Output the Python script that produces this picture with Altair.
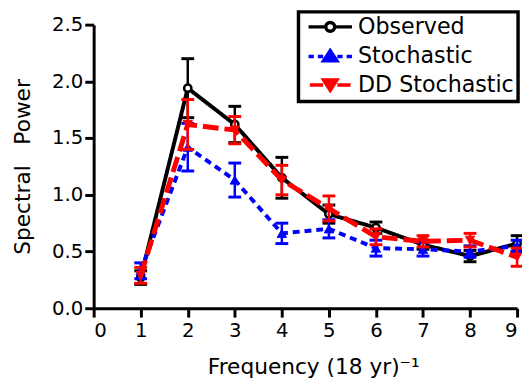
import altair as alt
import pandas as pd

freq = [1, 2, 3, 4, 5, 6, 7, 8, 9]
series_names = ["Observed", "Stochastic", "DD Stochastic"]
series_colors = ["#000000", "#0000ff", "#ff0000"]
series_fills = ["#ffffff", "#0000ff", "#ff0000"]

observed = [0.27, 1.94, 1.62, 1.15, 0.83, 0.71, 0.56, 0.46, 0.57]
observed_err = [0.06, 0.26, 0.16, 0.18, 0.08, 0.05, 0.04, 0.05, 0.07]
stochastic = [0.33, 1.42, 1.13, 0.66, 0.70, 0.53, 0.52, 0.50, 0.55]
stochastic_err = [0.07, 0.21, 0.15, 0.09, 0.08, 0.07, 0.06, 0.05, 0.05]
dd_stochastic = [0.29, 1.62, 1.57, 1.13, 0.88, 0.63, 0.59, 0.60, 0.45]
dd_stochastic_err = [0.07, 0.22, 0.12, 0.13, 0.11, 0.07, 0.05, 0.06, 0.08]

x_ticks = [0, 1, 2, 3, 4, 5, 6, 7, 8, 9]
y_ticks = [0.0, 0.5, 1.0, 1.5, 2.0, 2.5]

FONT = "DejaVu Sans"

series_values = [observed, stochastic, dd_stochastic]
series_errors = [observed_err, stochastic_err, dd_stochastic_err]
line_widths = [4, 4, 5]
line_dashes = [[1, 0], [7, 5], [16, 6]]
point_shapes = ["circle", "triangle-up", "triangle-down"]
point_sizes = [55, 90, 90]

# legend symbols: line + marker drawn as custom paths
legend_paths = [
    "M-2.45,0H-0.5M0.5,0H2.45M-0.5,0A0.5,0.5,0,1,1,0.5,0A0.5,0.5,0,1,1,-0.5,0Z",
    "M-2.45,0H-1.85M-1.4,0H-0.8M0.8,0H1.4M1.85,0H2.45M0,-0.65L0.75,0.5L-0.75,0.5Z",
    "M-2.3,0H-0.8M0.8,0H2.3M0,0.6L0.75,-0.55L-0.75,-0.55Z",
]


def xenc(field):
    return alt.X(
        f"{field}:Q",
        scale=alt.Scale(domain=[0, 9], nice=False, zero=False),
        axis=alt.Axis(
            values=x_ticks,
            format="d",
            title="Frequency (18 yr)\u207b\u00b9",
            titleX=223,
            titleY=66,
            titleBaseline="alphabetic",
            labelPadding=4,
        ),
    )


def yenc(field):
    return alt.Y(
        f"{field}:Q",
        scale=alt.Scale(domain=[0, 2.5], nice=False, zero=False),
        axis=alt.Axis(
            values=y_ticks,
            format=".1f",
            title="Spectral\u00a0\u00a0\u00a0Power",
            titleX=-65,
            titleBaseline="alphabetic",
            labelPadding=2,
        ),
    )


layers = []
for i, name in enumerate(series_names):
    df = pd.DataFrame(
        {
            "freq": freq,
            "value": series_values[i],
            "lo": [v - e for v, e in zip(series_values[i], series_errors[i])],
            "hi": [v + e for v, e in zip(series_values[i], series_errors[i])],
        }
    )
    c = series_colors[i]
    base = alt.Chart(df)
    layers.append(
        base.mark_line(color=c, strokeWidth=line_widths[i], strokeDash=line_dashes[i]).encode(
            x=xenc("freq"), y=yenc("value")
        )
    )
    layers.append(
        base.mark_rule(color=c, strokeWidth=2.5, opacity=1).encode(
            x=xenc("freq"), y=yenc("lo"), y2="hi:Q"
        )
    )
    for f in ["lo", "hi"]:
        layers.append(
            base.mark_tick(color=c, orient="horizontal", size=13, thickness=3, opacity=1).encode(
                x=xenc("freq"), y=yenc(f)
            )
        )
    layers.append(
        base.mark_point(
            shape=point_shapes[i],
            filled=True,
            fill=series_fills[i],
            stroke=c,
            strokeWidth=2.5 if i == 0 else 1,
            size=point_sizes[i],
            opacity=1,
        ).encode(x=xenc("freq"), y=yenc("value"))
    )

legend_df = pd.DataFrame({"series": series_names})
leg = alt.Legend(title=None, orient="none", legendX=208, legendY=-13)
legend_layer = alt.Chart(legend_df).mark_point(size=324, strokeWidth=3.5, opacity=1, filled=True).encode(
    x=alt.value(-600),
    y=alt.value(-600),
    shape=alt.Shape("series:N", scale=alt.Scale(domain=series_names, range=legend_paths), legend=leg),
    fill=alt.Fill("series:N", scale=alt.Scale(domain=series_names, range=series_fills), legend=leg),
    stroke=alt.Stroke("series:N", scale=alt.Scale(domain=series_names, range=series_colors), legend=leg),
)

chart = (
    alt.layer(*layers, legend_layer)
    .properties(
        width=430,
        height=288,
        autosize=alt.AutoSizeParams(type="none"),
        padding={"left": 87, "top": 14, "right": 5, "bottom": 73},
    )
    .configure_view(stroke=None)
    .configure_axis(
        grid=False,
        domainColor="black",
        domainWidth=3,
        tickColor="black",
        tickWidth=3,
        tickSize=9,
        labelFont=FONT,
        labelFontSize=20,
        labelColor="black",
        titleFont=FONT,
        titleFontSize=22,
        titleFontWeight="normal",
        titleColor="black",
    )
    .configure_legend(
        strokeColor="black",
        strokeWidth=3.5,
        fillColor="white",
        padding=4,
        cornerRadius=0,
        symbolSize=324,
        symbolStrokeWidth=3.5,
        symbolOffset=17,
        labelOffset=17,
        labelFont=FONT,
        labelFontSize=22.5,
        labelColor="black",
        labelLimit=300,
        rowPadding=5,
    )
)

chart.save("out.html", embed_options={"renderer": "svg", "actions": False})
